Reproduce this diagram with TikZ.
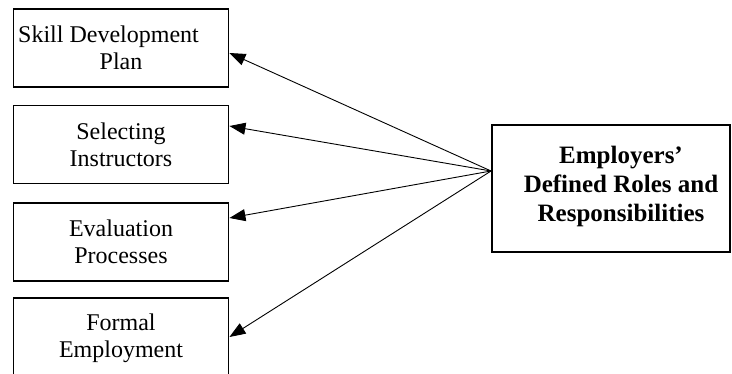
\documentclass[tikz,border=0pt]{standalone}
\usepackage{fontspec}
\setmainfont{Liberation Serif}
\usetikzlibrary{arrows.meta}
\begin{document}
\begin{tikzpicture}[x=1pt,y=-1pt,
  item/.style={draw,line width=1.9pt,minimum width=215pt,minimum height=78pt,
    inner sep=0pt,align=center,font=\fontsize{24}{27}\selectfont},
  hubbox/.style={draw,line width=1.9pt,minimum width=238pt,minimum height=127pt,inner sep=0pt},
  hubtext/.style={align=center,inner sep=0pt,font=\bfseries\fontsize{25}{29}\selectfont},
  arr/.style={line width=0.9pt,-{Triangle[length=16pt,width=12pt]}}]
\useasboundingbox (0,0) rectangle (732,374);
\begin{scope}
  \clip (0,0) rectangle (732,374);
  % activity boxes on the left
  \node[item] (b1) at (121,48) {Skill Development\hspace*{25pt}\\Plan};
  \node[item] (b2) at (121,144.5) {Selecting\\Instructors};
  \node[item] (b3) at (121,242) {Evaluation\\Processes};
  \node[item,minimum height=80pt] (b4) at (121,338) {Formal\\Employment};
  % central box on the right
  \node[hubbox] (emp) at (611,188.5) {};
  \node[hubtext] (emptext) at (621,186) {Employers'\\Defined Roles and\\Responsibilities};
  \coordinate (hub) at ([yshift=17.5pt]emp.west);
  % connectors fanning out from the hub
  \draw[arr] (hub) -- ([yshift=-5pt]b1.east);
  \draw[arr] (hub) -- ([yshift=18.5pt]b2.east);
  \draw[arr] (hub) -- ([yshift=24pt]b3.east);
  \draw[arr] (hub) -- ([yshift=1pt]b4.east);
\end{scope}
\end{tikzpicture}
\end{document}
